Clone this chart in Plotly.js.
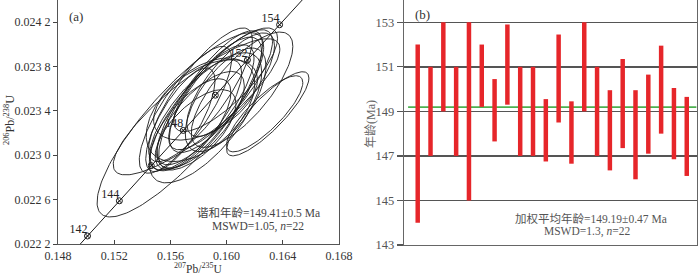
<!DOCTYPE html>
<html>
<head>
<meta charset="utf-8">
<script src="https://cdn.plot.ly/plotly-3.0.1.min.js"></script>
<style>html,body{margin:0;padding:0;background:#fff;}#chart{width:700px;height:274px;}</style>
</head>
<body>
<div id="chart"></div>
<script>
// ---------- Panel (a): concordia ----------
// concordia curve points (207Pb/235U, 206Pb/238U)
const concordiaX = [0.148968, 0.150100, 0.152368, 0.154639, 0.156916, 0.159197, 0.161482, 0.163772, 0.166067];
const concordiaY = [0.0221136, 0.0222722, 0.0225894, 0.0229067, 0.0232241, 0.0235416, 0.0238592, 0.0241769, 0.0244947];
// age ticks on concordia (Ma)
const ageTicks = [142, 144, 146, 148, 150, 152, 154];
const ageTickX = [0.150100, 0.152368, 0.154639, 0.156916, 0.159197, 0.161482, 0.163772];
const ageTickY = [0.0222722, 0.0225894, 0.0229067, 0.0232241, 0.0235416, 0.0238592, 0.0241769];
// labelled ages
const ageLabels = ['142', '144', '148', '152', '154'];
const ageLabelX = [0.150100, 0.152368, 0.156916, 0.161482, 0.163772];
const ageLabelY = [0.0222722, 0.0225894, 0.0232241, 0.0238592, 0.0241769];

// error ellipses: centre, half-widths (x,y) and error correlation
const ellCX = [0.15671, 0.15786, 0.16293, 0.16271, 0.15850, 0.15779, 0.15850, 0.15886, 0.15814, 0.15921, 0.15743,
               0.15957, 0.15993, 0.15707, 0.15814, 0.16029, 0.15814, 0.15850, 0.15779, 0.16110, 0.15671, 0.15993];
const ellCY = [0.023275, 0.023437, 0.023374, 0.023374, 0.023338, 0.023365, 0.023455, 0.023500, 0.023320, 0.023545, 0.023275,
               0.023591, 0.023500, 0.023410, 0.023410, 0.023636, 0.023545, 0.023500, 0.023229, 0.023591, 0.023320, 0.023681];
const ellSX = [0.005929, 0.005929, 0.002929, 0.002714, 0.004000, 0.003286, 0.003450, 0.003696, 0.003121, 0.003286, 0.002875,
               0.003696, 0.002875, 0.003286, 0.003861, 0.003121, 0.003696, 0.003696, 0.002875, 0.003614, 0.002464, 0.003696];
const ellSY = [0.000831, 0.000614, 0.000379, 0.000343, 0.000587, 0.000498, 0.000541, 0.000623, 0.000436, 0.000520, 0.000415,
               0.000541, 0.000467, 0.000572, 0.000467, 0.000467, 0.000603, 0.000363, 0.000363, 0.000520, 0.000467, 0.000467];
const ellRho = [0.84, 0.85, 0.85, 0.82, 0.70, 0.75, 0.78, 0.80, 0.70, 0.75, 0.70,
                0.80, 0.65, 0.80, 0.50, 0.75, 0.82, 0.50, 0.65, 0.75, 0.75, 0.80];

const xTickVals = [0.148, 0.152, 0.156, 0.160, 0.164, 0.168];
const xTickText = ['0.148', '0.152', '0.156', '0.160', '0.164', '0.168'];
const yTickVals = [0.0222, 0.0226, 0.0230, 0.0234, 0.0238, 0.0242];
const yTickText = ['0.022 2', '0.022 6', '0.023 0', '0.023 4', '0.023 8', '0.024 2'];

// ---------- Panel (b): weighted mean ----------
const spotIndex = [1,2,3,4,5,6,7,8,9,10,11,12,13,14,15,16,17,18,19,20,21,22];
const ageHigh = [152.0, 151.0, 153.0, 151.0, 153.0, 152.0, 150.45, 152.9, 151.0, 151.0, 149.55,
                 152.45, 149.45, 153.0, 151.0, 149.95, 151.35, 149.95, 150.65, 151.95, 150.05, 149.65];
const ageLow  = [144.0, 147.0, 149.0, 147.0, 145.0, 149.2, 147.65, 149.3, 147.0, 147.0, 146.75,
                 148.5, 146.65, 149.0, 147.0, 146.35, 147.35, 145.95, 147.1, 148.0, 146.85, 146.1];
const weightedMean = 149.19;
const bTickVals = [143, 145, 147, 149, 151, 153];

const SERIF = "'Liberation Serif', 'Times New Roman', 'Noto Sans CJK SC', serif";

// build ellipse outlines from centre / errors / correlation
const ex = [], ey = [];
const N = 160;
for (let i = 0; i < ellCX.length; i++) {
  const s = Math.sqrt(1 - ellRho[i] * ellRho[i]);
  for (let k = 0; k <= N; k++) {
    const t = 2 * Math.PI * k / N;
    ex.push(ellCX[i] + ellSX[i] * Math.cos(t));
    ey.push(ellCY[i] + ellSY[i] * (ellRho[i] * Math.cos(t) + s * Math.sin(t)));
  }
  ex.push(null); ey.push(null);
}

const traces = [
  { type: 'scatter', mode: 'lines', x: ex, y: ey, xaxis: 'x', yaxis: 'y',
    line: { color: '#1a1a1a', width: 0.9 }, hoverinfo: 'skip' },
  { type: 'scatter', mode: 'lines', x: concordiaX, y: concordiaY, xaxis: 'x', yaxis: 'y',
    line: { color: '#1a1a1a', width: 1 }, hoverinfo: 'skip' },
  { type: 'scatter', mode: 'markers', x: ageTickX, y: ageTickY, xaxis: 'x', yaxis: 'y',
    marker: { symbol: 'circle-x-open', size: 6, color: '#1a1a1a', line: { width: 1, color: '#1a1a1a' } },
    hoverinfo: 'skip' },
  { type: 'scatter', mode: 'text', x: ageLabelX, y: ageLabelY, xaxis: 'x', yaxis: 'y',
    text: ageLabels, textposition: 'top left',
    textfont: { family: SERIF, size: 12, color: '#222' }, hoverinfo: 'skip' },
  { type: 'bar', x: spotIndex, y: ageHigh.map((h, i) => h - ageLow[i]), base: ageLow,
    xaxis: 'x2', yaxis: 'y2', width: 0.35,
    marker: { color: '#e6262a', line: { width: 0 } }, hoverinfo: 'skip' }
];

const W = 700, H = 274;
const px = v => v / W;
const py = v => 1 - v / H;
const ann = (x, y, text, font, extra) => Object.assign({
  xref: 'paper', yref: 'paper', x: px(x), y: py(y), text: text, showarrow: false,
  xanchor: 'center', yanchor: 'middle', font: font
}, extra || {});

const layout = {
  width: W, height: H,
  margin: { l: 0, r: 0, t: 0, b: 0 },
  paper_bgcolor: '#fff', plot_bgcolor: '#fff',
  showlegend: false,
  font: { family: SERIF, size: 12, color: '#333' },
  xaxis: {
    domain: [px(58), px(339)], range: [0.148, 0.168],
    tickvals: xTickVals, ticktext: xTickText,
    ticks: 'inside', ticklen: 4, tickcolor: '#444', tickwidth: 1,
    showline: true, linecolor: '#555', linewidth: 1.2, mirror: false,
    showgrid: false, zeroline: false,
    tickfont: { family: SERIF, size: 12, color: '#333' }, anchor: 'y'
  },
  yaxis: {
    domain: [py(244), 1], range: [0.0222, 0.0244],
    tickvals: yTickVals, ticktext: yTickText,
    ticks: 'outside', ticklen: 4, tickcolor: '#444', tickwidth: 1,
    showline: true, linecolor: '#555', linewidth: 1.2, mirror: true,
    showgrid: false, zeroline: false,
    tickfont: { family: SERIF, size: 12, color: '#333' }, anchor: 'x'
  },
  xaxis2: {
    domain: [px(404), px(697)], range: [-0.07, 22.8],
    showticklabels: false, ticks: '', showgrid: false, zeroline: false,
    showline: true, linecolor: '#666', linewidth: 1.3, mirror: false, anchor: 'y2'
  },
  yaxis2: {
    domain: [py(245), 1], range: [143, 154],
    tickvals: bTickVals, ticks: 'outside', ticklen: 6, tickcolor: '#555', tickwidth: 1.2,
    showgrid: true, gridcolor: '#555', gridwidth: 1.4,
    showline: true, linecolor: '#666', linewidth: 1.3, mirror: true, zeroline: false,
    tickfont: { family: SERIF, size: 12.5, color: '#555' }, anchor: 'x2'
  },
  shapes: [
    { type: 'line', xref: 'x2', yref: 'y2', x0: 0.25, x1: 22.75, y0: weightedMean, y1: weightedMean,
      line: { color: '#4cb050', width: 1.6 }, layer: 'below' }
  ],
  annotations: [
    ann(76, 17, '(a)', { family: SERIF, size: 13, color: '#333' }),
    ann(422, 14, '(b)', { family: SERIF, size: 13, color: '#333' }),
    ann(258, 212, '谐和年龄=149.41±0.5 Ma', { family: SERIF, size: 11.5, color: '#444' }),
    ann(258, 226, 'MSWD=1.05, <i>n</i>=22', { family: SERIF, size: 11.5, color: '#444' }),
    ann(591, 218, '加权平均年龄=149.19±0.47 Ma', { family: SERIF, size: 11.5, color: '#555' }),
    ann(587, 231, 'MSWD=1.3, <i>n</i>=22', { family: SERIF, size: 11.5, color: '#555' }),
    ann(198, 268, '<sup>207</sup>Pb/<sup>235</sup>U', { family: SERIF, size: 11.5, color: '#333' }),
    ann(9, 120, '<sup>206</sup>Pb/<sup>238</sup>U', { family: SERIF, size: 12, color: '#333' }, { textangle: -90 }),
    ann(371, 124, '年龄(Ma)', { family: SERIF, size: 12, color: '#666' }, { textangle: -90 })
  ]
};

Plotly.newPlot('chart', traces, layout, { staticPlot: true, displayModeBar: false });
</script>
</body>
</html>
